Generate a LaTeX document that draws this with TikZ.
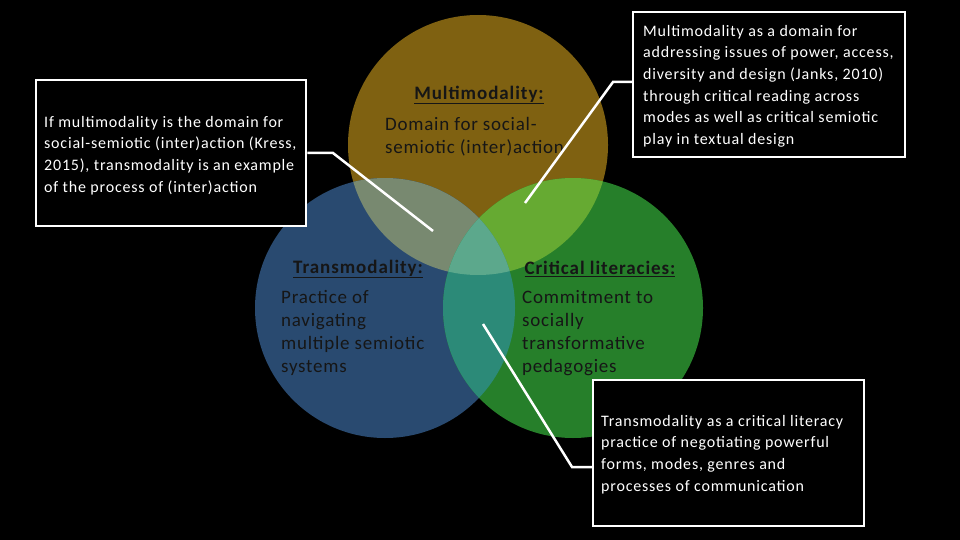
\documentclass[tikz,border=0pt]{standalone}
\usepackage{fontspec}
\setmainfont{Carlito}
\definecolor{cT}{RGB}{127,97,17}
\definecolor{cB}{RGB}{41,74,112}
\definecolor{cG}{RGB}{38,127,42}
\definecolor{cTB}{RGB}{120,137,112}
\definecolor{cTG}{RGB}{102,170,50}
\definecolor{cBG}{RGB}{44,138,120}
\definecolor{cTBG}{RGB}{92,168,140}
\definecolor{ink}{RGB}{22,22,22}
\begin{document}
\begin{tikzpicture}[x=1pt,y=-1pt,
  venn/.style={circle,inner sep=0pt,minimum size=260pt},
  calloutbox/.style={draw=white,line width=2.5pt,fill=black,inner sep=0pt},
  callouttext/.style={text=white,font=\fontsize{16}{21.6}\selectfont\addfontfeature{LetterSpace=5},align=left,anchor=north west,inner sep=0pt},
  circtitle/.style={text=ink,font=\fontsize{19}{22}\selectfont\bfseries\addfontfeature{LetterSpace=5},inner sep=0pt},
  circtext/.style={text=ink,font=\fontsize{19}{23}\selectfont\addfontfeature{LetterSpace=4},align=left,anchor=north west,inner sep=0pt},
  connector/.style={draw=white,line width=2.5pt}]
\fill[black] (0,0) rectangle (960,540);
\useasboundingbox (0,0) rectangle (960,540);
% circles
\node[venn,fill=cT] (mm) at (478,145) {};
\node[venn,fill=cB] (tm) at (385,308) {};
\node[venn,fill=cG] (cl) at (573,308) {};
\begin{scope}
  \clip (478,145) circle (130pt);
  \fill[cTB] (385,308) circle (130pt);
  \fill[cTG] (573,308) circle (130pt);
\end{scope}
\begin{scope}
  \clip (385,308) circle (130pt);
  \fill[cBG] (573,308) circle (130pt);
\end{scope}
\begin{scope}
  \clip (478,145) circle (130pt);
  \clip (385,308) circle (130pt);
  \fill[cTBG] (573,308) circle (130pt);
\end{scope}
% circle texts
\node[circtitle] (mmt) at (479,95) {\underline{Multimodality:}};
\node[circtext] (mmb) at (385,117) {Domain for social-\\semiotic (inter)action};
\node[circtitle] (tmt) at (358,269) {\underline{Transmodality:}};
\node[circtext] (tmb) at (281,290) {Practice of\\navigating\\multiple semiotic\\systems};
\node[circtitle] (clt) at (600,269) {\underline{Critical literacies:}};
\node[circtext] (clb) at (522,290) {Commitment to\\socially\\transformative\\pedagogies};
% boxes
\node[calloutbox,minimum width=270pt,minimum height=146pt] (lb) at (171,153) {};
\node[callouttext] (lbt) at (44,116) {If multimodality is the domain for\\social-semiotic (inter)action (Kress,\\2015), transmodality is an example\\of the process of (inter)action};
\node[calloutbox,minimum width=272pt,minimum height=145pt] (tr) at (769,84.5) {};
\node[callouttext] (trt) at (643,25) {Multimodality as a domain for\\addressing issues of power, access,\\diversity and design (Janks, 2010)\\through critical reading across\\modes as well as critical semiotic\\play in textual design};
\node[calloutbox,minimum width=271pt,minimum height=146pt] (br) at (728.5,453) {};
\node[callouttext] (brt) at (601,415) {Transmodality as a critical literacy\\practice of negotiating powerful\\forms, modes, genres and\\processes of communication};
% connectors
\coordinate (lbk) at (333,153);
\coordinate (lbe) at (433,231);
\coordinate (trk) at (613,82);
\coordinate (tre) at (525,203);
\coordinate (brk) at (572,467);
\coordinate (bre) at (483,324);
\draw[connector] (lb.east) -- (lbk) -- (lbe);
\draw[connector] ([yshift=2.5pt]tr.west) -- (trk) -- (tre);
\draw[connector] ([yshift=-14pt]br.west) -- (brk) -- (bre);
\end{tikzpicture}
\end{document}
